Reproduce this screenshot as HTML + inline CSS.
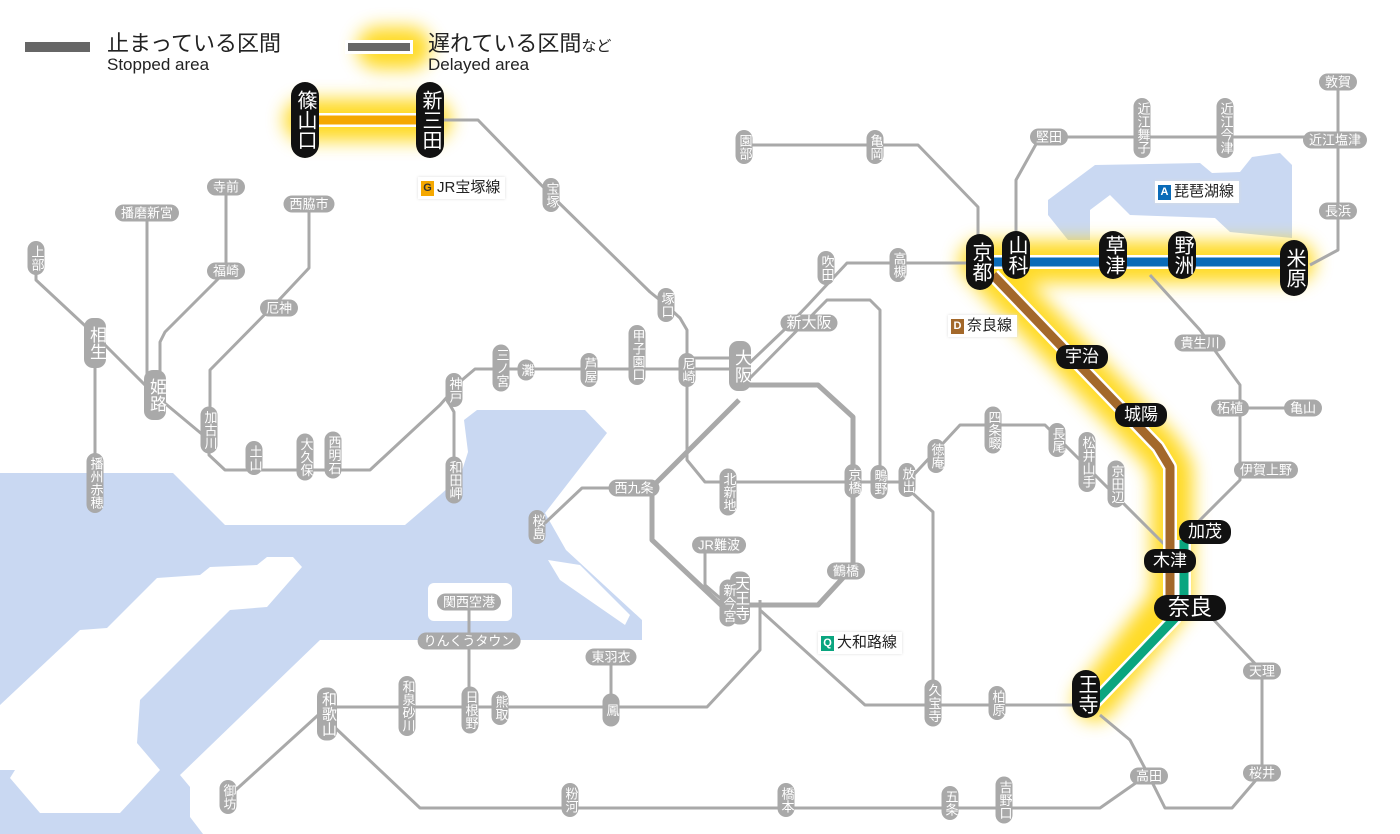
<!DOCTYPE html>
<html><head><meta charset="utf-8">
<style>
html,body{margin:0;padding:0;background:#fff;}
#w{position:relative;width:1400px;height:834px;overflow:hidden;font-family:"Liberation Sans","Noto Sans CJK JP",sans-serif;}
svg{position:absolute;left:0;top:0;}
.s{position:absolute;transform:translate(-50%,-50%);background:#a9a9a9;color:#fff;font-size:13px;line-height:15px;white-space:nowrap;text-align:center;}
.v{writing-mode:vertical-rl;width:17px;padding:4px 0;border-radius:9px;}
.h{padding:1px 6px;border-radius:9px;}
.b{background:#111;color:#fff;}
.bv{writing-mode:vertical-rl;width:28px;font-size:20px;line-height:28px;padding:8px 0;border-radius:14px;}
.bh{font-size:17px;line-height:22px;padding:1px 9px;border-radius:11px;}
.lab{position:absolute;background:#fff;font-size:15px;line-height:20px;padding:1px 5px 1px 3px;color:#222;box-shadow:0 0 3px #ddd;white-space:nowrap;}
.lab i{font-style:normal;display:inline-block;width:13px;height:15px;line-height:15px;font-size:11px;font-weight:bold;color:#fff;text-align:center;margin-right:3px;vertical-align:1px;}
.t1{position:absolute;font-size:22px;color:#222;white-space:nowrap;}
.t2{position:absolute;font-size:17px;color:#222;white-space:nowrap;}
</style></head><body><div id="w">
<svg width="1400" height="834" viewBox="0 0 1400 834">
<defs><filter id="gl" x="-20%" y="-20%" width="140%" height="140%"><feGaussianBlur stdDeviation="9"/></filter></defs>
<g fill="#c9d8f2">
<polygon points="0,473 173,473 225,525 405,525 440,495 460,477 468,452 464,420 477,410 585,410 607,433 545,513 566,550 642,620 642,640 320,640 180,775 190,787 190,817 203,834 0,834"/>
<polygon points="1095,165 1200,163 1212,173 1240,172 1252,157 1280,153 1292,165 1292,238 1230,232 1215,218 1130,215 1110,195 1090,210 1090,240 1068,240 1048,215 1048,200"/>
</g>
<g fill="#fff">
<polygon points="0,705 80,630 107,628 157,578 200,575 210,567 257,565 267,557 293,557 302,567 267,607 230,610 140,700 137,743 160,770 120,813 40,813 10,778 15,770 0,770"/>
<rect x="428" y="583" width="84" height="38" rx="6"/>
<polygon points="548,560 580,565 630,615 625,625 560,580"/>
</g>
<g stroke="#ffd400" stroke-width="42" fill="none" stroke-linecap="round" stroke-linejoin="round" filter="url(#gl)" opacity="0.85">
<path d="M305,120H430"/>
<path d="M980,262H1294"/>
<path d="M990,272L1160,450L1172,470V600L1095,700"/>
<path d="M378,48H410"/>
</g>
<g stroke="#a9a9a9" stroke-width="3" fill="none" stroke-linejoin="round">
<path d="M36,262V280L95,335L155,395L209,440V455L225,470H370L440,405L462,380L475,369H740"/>
<path d="M687,358H740"/>
<path d="M95,343V500"/>
<path d="M147,213V395"/>
<path d="M226,187V271L165,332L160,342V395"/>
<path d="M309,204V268L279,300L210,370V430"/>
<path d="M446,398L454,412V480"/>
<path d="M430,120H478L551,195L650,292L666,305L680,318L687,330V460L705,482H907"/>
<path d="M744,145H918L978,207V262"/>
<path d="M740,372L784,330L808,305L847,263H980"/>
<path d="M750,378L827,300H870L880,310V482"/>
<path d="M634,488H582L545,523"/>
<path d="M719,545H705V585L720,598H740"/>
<path d="M760,600V650L707,707H327"/>
<path d="M469,602V710"/>
<path d="M611,657V710"/>
<path d="M327,707L228,797"/>
<path d="M327,720L420,808H1100L1140,780"/>
<path d="M1100,715L1130,740L1149,776L1165,808H1232L1262,773V671L1212,618"/>
<path d="M760,610L865,705H1086"/>
<path d="M907,488L933,512V705"/>
<path d="M907,482L960,425H1045L1065,445L1165,545"/>
<path d="M1150,275L1200,330L1240,385V480L1195,525"/>
<path d="M1240,408H1303"/>
<path d="M1016,240V180L1040,137H1338"/>
<path d="M1338,82V250L1310,265"/>
</g>
<path d="M740,385H818L853,417V567L818,605H721L652,540V487L739,400" stroke="#a9a9a9" stroke-width="5" fill="none" stroke-linejoin="round"/>
<g fill="none" stroke-linejoin="round">
<path d="M305,120H430" stroke="#fff" stroke-width="14"/><path d="M305,120H430" stroke="#f5a800" stroke-width="9"/>
<path d="M980,262H1294" stroke="#fff" stroke-width="14"/><path d="M980,262H1294" stroke="#0a6bb8" stroke-width="9"/>
<path d="M993,275L1158,447L1170,467V600" stroke="#fff" stroke-width="14"/><path d="M993,275L1158,447L1170,467V600" stroke="#a3682a" stroke-width="9"/>
<path d="M1184,540V598L1175,618L1092,705" stroke="#fff" stroke-width="14"/><path d="M1184,540V598L1175,618L1092,705" stroke="#0aa57f" stroke-width="9"/>
</g>
<rect x="25" y="42" width="65" height="10" fill="#666"/>
<rect x="345" y="40" width="68" height="14" fill="#fff"/>
<rect x="348" y="43" width="62" height="8" fill="#666"/>
</svg>

<div class="t1" style="left:107px;top:26px">止まっている区間</div>
<div class="t2" style="left:107px;top:55px">Stopped area</div>
<div class="t1" style="left:428px;top:26px">遅れている区間<span style="font-size:15px">など</span></div>
<div class="t2" style="left:428px;top:55px">Delayed area</div>

<div class="lab" style="left:418px;top:177px"><i style="background:#f5a800;color:#333">G</i>JR宝塚線</div>
<div class="lab" style="left:1155px;top:181px"><i style="background:#0a6bb8">A</i>琵琶湖線</div>
<div class="lab" style="left:948px;top:315px"><i style="background:#a3682a">D</i>奈良線</div>
<div class="lab" style="left:818px;top:632px"><i style="background:#0aa57f">Q</i>大和路線</div>

<div class="s b bv" style="left:305px;top:120px">篠山口</div>
<div class="s b bv" style="left:430px;top:120px">新三田</div>
<div class="s b bv" style="left:980px;top:262px">京都</div>
<div class="s b bv" style="left:1016px;top:255px;padding:4px 0">山科</div>
<div class="s b bv" style="left:1113px;top:255px;padding:4px 0">草津</div>
<div class="s b bv" style="left:1182px;top:255px;padding:4px 0">野洲</div>
<div class="s b bv" style="left:1294px;top:268px">米原</div>
<div class="s b bh" style="left:1082px;top:357px">宇治</div>
<div class="s b bh" style="left:1141px;top:415px">城陽</div>
<div class="s b bh" style="left:1205px;top:532px">加茂</div>
<div class="s b bh" style="left:1170px;top:561px">木津</div>
<div class="s b bh" style="left:1190px;top:608px;font-size:22px;line-height:26px;padding:0 14px;border-radius:13px">奈良</div>
<div class="s b bv" style="left:1086px;top:694px;padding:4px 0">王寺</div>

<div class="s v" style="left:36px;top:258px">上部</div>
<div class="s v" style="left:95px;top:343px;width:22px;font-size:17px;line-height:20px;padding:8px 0">相生</div>
<div class="s v" style="left:95px;top:483px">播州赤穂</div>
<div class="s v" style="left:155px;top:395px;width:22px;font-size:17px;line-height:20px;padding:8px 0">姫路</div>
<div class="s h" style="left:147px;top:213px">播磨新宮</div>
<div class="s h" style="left:226px;top:187px">寺前</div>
<div class="s h" style="left:226px;top:271px">福崎</div>
<div class="s h" style="left:309px;top:204px">西脇市</div>
<div class="s h" style="left:279px;top:308px">厄神</div>
<div class="s v" style="left:209px;top:430px">加古川</div>
<div class="s v" style="left:254px;top:458px">土山</div>
<div class="s v" style="left:305px;top:457px">大久保</div>
<div class="s v" style="left:333px;top:455px">西明石</div>
<div class="s v" style="left:454px;top:390px">神戸</div>
<div class="s v" style="left:454px;top:480px">和田岬</div>
<div class="s v" style="left:501px;top:368px">三ノ宮</div>
<div class="s v" style="left:526px;top:370px">灘</div>
<div class="s v" style="left:589px;top:370px">芦屋</div>
<div class="s v" style="left:637px;top:355px">甲子園口</div>
<div class="s v" style="left:687px;top:370px">尼崎</div>
<div class="s v" style="left:740px;top:366px;width:22px;font-size:17px;line-height:20px;padding:8px 0">大阪</div>
<div class="s h" style="left:809px;top:323px;font-size:15px">新大阪</div>
<div class="s v" style="left:826px;top:268px">吹田</div>
<div class="s v" style="left:898px;top:265px">高槻</div>
<div class="s v" style="left:551px;top:195px">宝塚</div>
<div class="s v" style="left:666px;top:305px">塚口</div>
<div class="s v" style="left:744px;top:147px">園部</div>
<div class="s v" style="left:875px;top:147px">亀岡</div>
<div class="s h" style="left:1049px;top:137px">堅田</div>
<div class="s v" style="left:1142px;top:128px">近江舞子</div>
<div class="s v" style="left:1225px;top:128px">近江今津</div>
<div class="s h" style="left:1338px;top:82px">敦賀</div>
<div class="s h" style="left:1335px;top:140px">近江塩津</div>
<div class="s h" style="left:1338px;top:211px">長浜</div>
<div class="s h" style="left:1200px;top:343px">貴生川</div>
<div class="s h" style="left:1230px;top:408px">柘植</div>
<div class="s h" style="left:1303px;top:408px">亀山</div>
<div class="s h" style="left:1266px;top:470px">伊賀上野</div>
<div class="s h" style="left:1262px;top:671px">天理</div>
<div class="s h" style="left:1262px;top:773px">桜井</div>
<div class="s h" style="left:1149px;top:776px">高田</div>
<div class="s v" style="left:1004px;top:800px">吉野口</div>
<div class="s v" style="left:950px;top:803px">五条</div>
<div class="s v" style="left:786px;top:800px">橋本</div>
<div class="s v" style="left:570px;top:800px">粉河</div>
<div class="s v" style="left:228px;top:797px">御坊</div>
<div class="s v" style="left:327px;top:714px;width:20px;font-size:15px;line-height:18px">和歌山</div>
<div class="s v" style="left:407px;top:706px">和泉砂川</div>
<div class="s v" style="left:470px;top:710px">日根野</div>
<div class="s v" style="left:500px;top:708px">熊取</div>
<div class="s v" style="left:611px;top:710px;padding:10px 0">鳳</div>
<div class="s h" style="left:611px;top:657px">東羽衣</div>
<div class="s h" style="left:469px;top:641px">りんくうタウン</div>
<div class="s h" style="left:469px;top:602px">関西空港</div>
<div class="s v" style="left:740px;top:598px;width:20px;font-size:15px;line-height:18px">天王寺</div>
<div class="s v" style="left:728px;top:603px">新今宮</div>
<div class="s h" style="left:719px;top:545px">JR難波</div>
<div class="s h" style="left:846px;top:571px">鶴橋</div>
<div class="s v" style="left:853px;top:481px">京橋</div>
<div class="s v" style="left:879px;top:482px">鴫野</div>
<div class="s v" style="left:907px;top:480px">放出</div>
<div class="s v" style="left:728px;top:492px">北新地</div>
<div class="s h" style="left:634px;top:488px">西九条</div>
<div class="s v" style="left:537px;top:527px">桜島</div>
<div class="s v" style="left:936px;top:456px">徳庵</div>
<div class="s v" style="left:993px;top:430px">四条畷</div>
<div class="s v" style="left:1057px;top:440px">長尾</div>
<div class="s v" style="left:1087px;top:462px">松井山手</div>
<div class="s v" style="left:1116px;top:484px">京田辺</div>
<div class="s v" style="left:933px;top:703px">久宝寺</div>
<div class="s v" style="left:997px;top:703px">柏原</div>
</div></body></html>
